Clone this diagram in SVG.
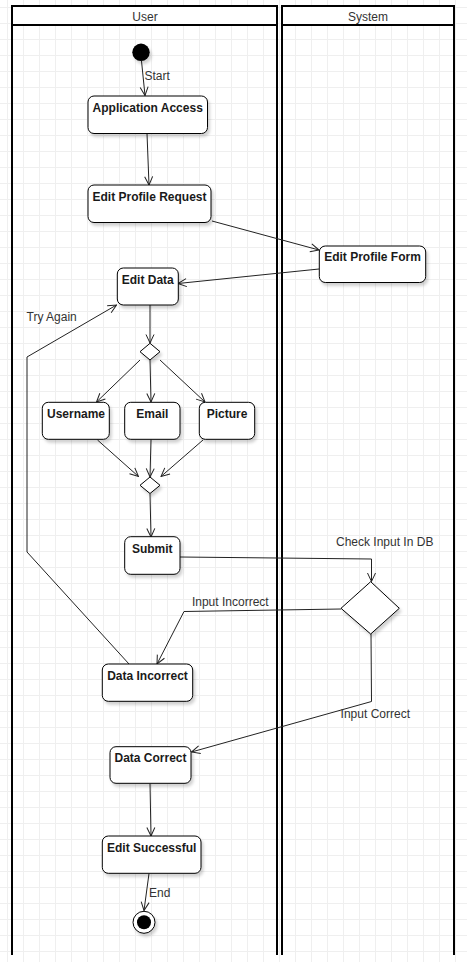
<svg xmlns="http://www.w3.org/2000/svg" width="467" height="962" viewBox="0 0 467 962">
<style>
  .lane{fill:none;stroke:#000;stroke-width:2}
  .hdr{fill:#fff;stroke:#000;stroke-width:2}
  .hdrtxt{font-family:"Liberation Sans",Arial,sans-serif;font-size:12px;fill:#333;text-anchor:middle}
  .node{fill:#fff;stroke:#000;stroke-width:1;filter:url(#sh)}
  .ntxt{font-family:"Liberation Sans",Arial,sans-serif;font-size:12px;font-weight:bold;fill:#1a1a1a;text-anchor:middle}
  .edge{fill:none;stroke:#222;stroke-width:1;marker-end:url(#open)}
  .lbl{font-family:"Liberation Sans",Arial,sans-serif;font-size:12px;fill:#333}
</style>
<defs>
  <pattern id="grid" patternUnits="userSpaceOnUse" x="7" y="7" width="16" height="16">
    <path d="M0.5 0V16M0 0.5H16" stroke="#efefef" stroke-width="1" fill="none"/>
  </pattern>
  <filter id="sh" x="-20%" y="-20%" width="150%" height="160%">
    <feDropShadow dx="2" dy="3" stdDeviation="1.5" flood-color="#000" flood-opacity="0.18"/>
  </filter>
  <marker id="open" viewBox="0 0 10 10" refX="9.5" refY="5" markerWidth="10" markerHeight="10" markerUnits="userSpaceOnUse" orient="auto">
    <path d="M1 1 L9.5 5 L1 9" fill="none" stroke="#222" stroke-width="1"/>
  </marker>
</defs>
<rect width="467" height="962" fill="#fff"/>
<rect width="467" height="962" fill="url(#grid)"/>

<g id="lane-user">
  <rect class="hdr" x="12" y="6" width="265" height="19"/>
  <path class="lane" d="M12 955V6H277V955"/>
  <text class="hdrtxt" x="145" y="21">User</text>
</g>
<g id="lane-system">
  <rect class="hdr" x="282" y="6" width="172" height="19"/>
  <path class="lane" d="M282 955V6H454V955"/>
  <text class="hdrtxt" x="368" y="21">System</text>
</g>

<g id="connectors">
  <path class="edge" d="M141.5 61L145 95.5"/>
  <path class="edge" d="M147 133.5L149 185"/>
  <path class="edge" d="M212 221L319 250"/>
  <path class="edge" d="M319 269L178 283.5"/>
  <path class="edge" d="M150 305L150 343"/>
  <path class="edge" d="M140 360L96.5 402"/>
  <path class="edge" d="M150 360L151 402"/>
  <path class="edge" d="M160 360L205 402"/>
  <path class="edge" d="M97.5 440L138.5 476.5"/>
  <path class="edge" d="M151 439.5L150 477"/>
  <path class="edge" d="M203 440L161 476.5"/>
  <path class="edge" d="M150 493.5L151 537"/>
  <path class="edge" d="M180 557L371.5 559L371.5 581.5"/>
  <path class="edge" d="M341 609L184 611.5L157 664"/>
  <path class="edge" d="M371 634L371.5 701.5L191.5 752"/>
  <path class="edge" d="M129 664L27 552L27 357L116.5 305"/>
  <path class="edge" d="M150 783.5L151 836"/>
  <path class="edge" d="M149 873.5L144 910.5"/>
  <text class="lbl" x="144.5" y="80">Start</text>
  <text class="lbl" x="26.5" y="321">Try Again</text>
  <text class="lbl" x="384.7" y="546" text-anchor="middle">Check Input In DB</text>
  <text class="lbl" x="230.3" y="606" text-anchor="middle">Input Incorrect</text>
  <text class="lbl" x="375.3" y="717.5" text-anchor="middle">Input Correct</text>
  <text class="lbl" x="149" y="897">End</text>
</g>

<g id="start"><circle cx="141" cy="52.3" r="8.7" fill="#000" filter="url(#sh)"/></g>
<g id="app-access"><rect class="node" x="88" y="96" width="119.5" height="37.5" rx="6"/><text class="ntxt" x="147.7" y="112">Application Access</text></g>
<g id="edit-profile-request"><rect class="node" x="88" y="185" width="123" height="37.5" rx="6"/><text class="ntxt" x="149.5" y="201">Edit Profile Request</text></g>
<g id="edit-profile-form"><rect class="node" x="319.3" y="246" width="106.4" height="36.5" rx="6"/><text class="ntxt" x="372.5" y="261">Edit Profile Form</text></g>
<g id="edit-data"><rect class="node" x="117.3" y="268" width="61" height="37" rx="6"/><text class="ntxt" x="147.8" y="284">Edit Data</text></g>
<g id="decision-1"><path class="node" d="M150 343.3L160 351.7L150 360L140 351.7Z"/></g>
<g id="username"><rect class="node" x="42.3" y="402.3" width="67" height="37" rx="6"/><text class="ntxt" x="76" y="417.5">Username</text></g>
<g id="email"><rect class="node" x="124.7" y="402.3" width="55.3" height="37" rx="6"/><text class="ntxt" x="152.3" y="417.5">Email</text></g>
<g id="picture"><rect class="node" x="199.3" y="402.3" width="55.4" height="37" rx="6"/><text class="ntxt" x="227" y="417.5">Picture</text></g>
<g id="decision-2"><path class="node" d="M150 477L160 485.3L150 493.5L140 485.3Z"/></g>
<g id="submit"><rect class="node" x="124.7" y="536.7" width="55.3" height="37.6" rx="6"/><text class="ntxt" x="152.3" y="552.5">Submit</text></g>
<g id="decision-db"><path class="node" d="M370.7 581.7L399.3 608.3L370.7 634L341 608.3Z"/></g>
<g id="data-incorrect"><rect class="node" x="102.3" y="664" width="90.4" height="37.3" rx="6"/><text class="ntxt" x="147.5" y="680">Data Incorrect</text></g>
<g id="data-correct"><rect class="node" x="110" y="746.7" width="81" height="36.6" rx="6"/><text class="ntxt" x="150.5" y="762">Data Correct</text></g>
<g id="edit-successful"><rect class="node" x="102.3" y="836" width="98.7" height="37.3" rx="6"/><text class="ntxt" x="151.7" y="852">Edit Successful</text></g>
<g id="end"><circle cx="144" cy="922.3" r="11" fill="#fff" stroke="#000" stroke-width="1" filter="url(#sh)"/><circle cx="144" cy="922.3" r="7" fill="#000"/></g>
</svg>
